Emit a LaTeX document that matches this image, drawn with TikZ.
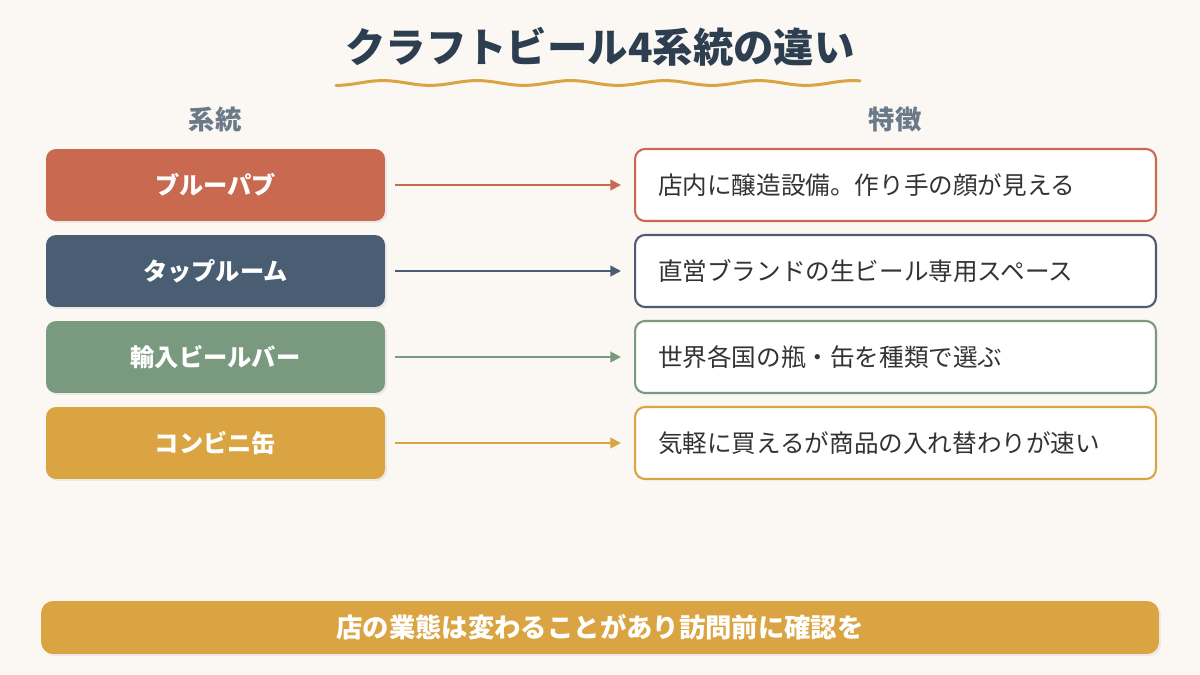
\documentclass[tikz,border=0pt]{standalone}
\usepackage{fontspec}
\setmainfont{Noto Sans CJK JP}
\usetikzlibrary{arrows.meta,shadows}
\definecolor{bg}{HTML}{FBF7F3}
\definecolor{cred}{HTML}{C96A50}
\definecolor{cnavy}{HTML}{4A5E73}
\definecolor{cgreen}{HTML}{7A9A80}
\definecolor{cgold}{HTML}{D9A441}
\definecolor{ctitle}{HTML}{2C3E50}
\definecolor{chead}{HTML}{6B7A89}
\definecolor{ctext}{HTML}{333333}
\tikzset{
  lbox/.style={rounded corners=0.2cm, minimum width=6.78cm, minimum height=1.44cm,
    text=white, font=\fontsize{13.8}{16}\selectfont\bfseries,
    drop shadow={opacity=0.12, shadow xshift=0.04cm, shadow yshift=-0.04cm}},
  rbox/.style={rounded corners=0.2cm, minimum height=1.44cm, fill=white, line width=1.2pt,
    text width=9.5cm, inner xsep=0.46cm, align=left, text=ctext,
    font=\fontsize{14}{16}\selectfont},
  arr/.style={line width=1.1pt, -{Triangle[length=6pt,width=6pt]}, shorten <=0.2cm, shorten >=0.26cm},
  head/.style={text=chead, font=\fontsize{15}{18}\selectfont\bfseries},
}
\begin{document}
\begin{tikzpicture}[x=0.02cm, y=-0.02cm]
\useasboundingbox[fill=bg] (0,0) rectangle (1200,675);
\node[text=ctitle, font=\fontsize{23}{28}\selectfont\bfseries] (title) at (600,47) {クラフトビール4系統の違い};
\draw[cgold, line width=1.7pt, line cap=round] plot[domain=336:860, samples=140] (\x, {83+2.4*cos((\x-336)/94*360)});
\node[head] (h1) at (215,120) {系統};
\node[head] (h2) at (895,120) {特徴};

\node[lbox, fill=cred]   (l1) at (215.5,185) {ブルーパブ};
\node[lbox, fill=cnavy]  (l2) at (215.5,271) {タップルーム};
\node[lbox, fill=cgreen] (l3) at (215.5,357) {輸入ビールバー};
\node[lbox, fill=cgold]  (l4) at (215.5,443) {コンビニ缶};

\node[rbox, draw=cred]   (r1) at (895.5,185) {店内に醸造設備。作り手の顔が見える};
\node[rbox, draw=cnavy]  (r2) at (895.5,271) {直営ブランドの生ビール専用スペース};
\node[rbox, draw=cgreen] (r3) at (895.5,357) {世界各国の瓶・缶を種類で選ぶ};
\node[rbox, draw=cgold]  (r4) at (895.5,443) {気軽に買えるが商品の入れ替わりが速い};

\draw[arr, cred]   (l1) -- (r1);
\draw[arr, cnavy]  (l2) -- (r2);
\draw[arr, cgreen] (l3) -- (r3);
\draw[arr, cgold]  (l4) -- (r4);

\node[fill=cgold, rounded corners=0.24cm, minimum width=22.36cm, minimum height=1.06cm,
  text=white, font=\fontsize{15}{18}\selectfont\bfseries,
  drop shadow={opacity=0.12, shadow xshift=0.04cm, shadow yshift=-0.04cm}] (note) at (600,627.5)
  {店の業態は変わることがあり訪問前に確認を};
\end{tikzpicture}
\end{document}
